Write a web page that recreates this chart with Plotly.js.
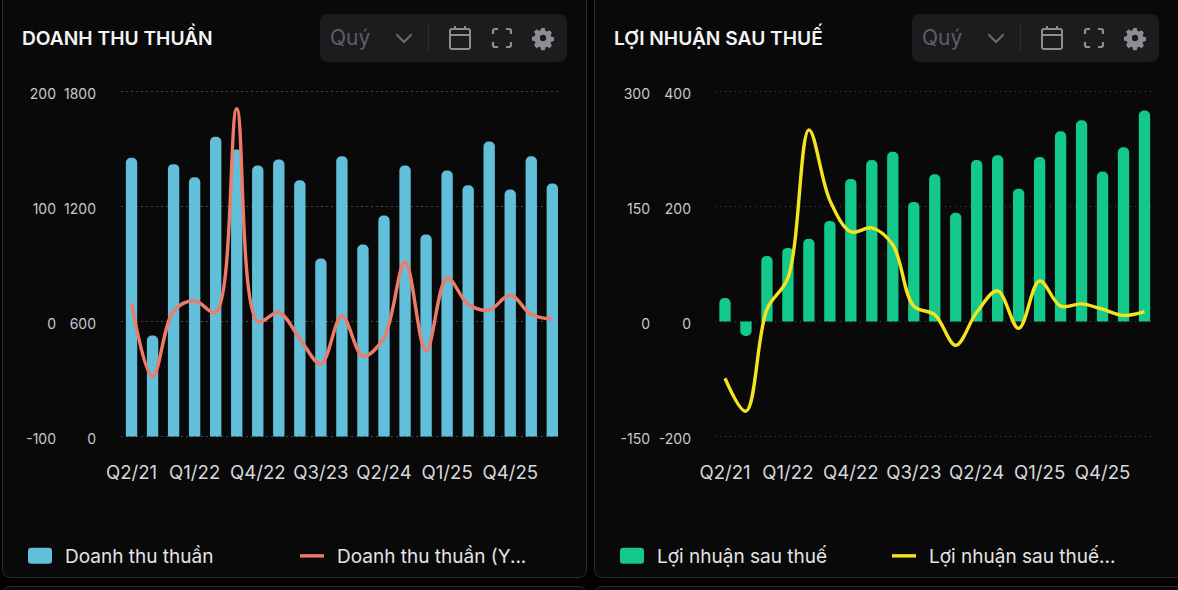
<!DOCTYPE html>
<html><head><meta charset="utf-8">
<script src="https://cdn.plot.ly/plotly-3.0.1.min.js"></script>
<style>
html,body{margin:0;padding:0;width:1178px;height:590px;overflow:hidden;background:#020203;font-family:Inter,sans-serif}
.panel{position:absolute;background:#09090a;border:1px solid #2b2b2d;box-sizing:border-box;border-radius:8px}
.ctl{position:absolute;top:14px;width:247px;height:48px;background:#1c1c1f;border-radius:8px;color:#5e5e62}
.ctl span{position:absolute;left:10px;top:10px;font-size:21px;line-height:28px}
.ctl svg{position:absolute;overflow:visible}
.sep{position:absolute;left:108px;top:10px;width:1px;height:27px;background:#2d2d30}
#chart{position:absolute;left:0;top:0;width:1178px;height:590px}
</style></head><body>
<div class="panel" style="left:2px;top:-20px;width:585px;height:598px"></div>
<div class="panel" style="left:594px;top:-20px;width:600px;height:598px"></div>
<div class="panel" style="left:2px;top:586px;width:585px;height:40px"></div>
<div class="panel" style="left:594px;top:586px;width:600px;height:40px"></div>
<div id="ctl1"></div><div id="ctl2"></div>
<div id="chart"></div>
<script>
var quarters = ["Q2/21","Q3/21","Q4/21","Q1/22","Q2/22","Q3/22","Q4/22","Q1/23","Q2/23","Q3/23","Q4/23","Q1/24","Q2/24","Q3/24","Q4/24","Q1/25","Q2/25","Q3/25","Q4/25","Q1/26","Q2/26"];
var xTicks = ["Q2/21","Q1/22","Q4/22","Q3/23","Q2/24","Q1/25","Q4/25"];
var revenue = [1454,527,1421,1353,1564,1497,1414,1445,1337,929,1462,1002,1153,1414,1054,1388,1311,1539,1289,1462,1320];
var revenueYoY = [16,-48,9,18,8,185,0,8,-15,-37,5,-30,-14,52,-26,38,15,10,23,6,2];
var profit = [41,-25,114,128,144,175,248,281,295,208,256,189,281,289,231,286,331,350,261,303,367];
var profitYoY = [-74,-117,16,57,250,158,117,122,100,20,9,-31,12,40,-9,53,20,23,16,8,13];
var revTickVals = [0,600,1200,1800];
var revTickText = ["0","600","1200","1800"];
var revYoYTickVals = [-100,0,100,200];
var revYoYTickText = ["-100","0","100","200"];
var profTickVals = [-200,0,200,400];
var profTickText = ["-200","0","200","400"];
var profYoYTickVals = [-150,0,150,300];
var profYoYTickText = ["-150","0","150","300"];
var W = 1178, H = 590;
var PAD = 2, topPx = 91.5, botPx = 436.5, span = botPx - topPx;
var yDom = [(H-botPx-PAD)/H,(H-topPx+PAD)/H];
function pad(lo,hi){var e=(hi-lo)/span*PAD;return [lo-e,hi+e];}
var tickFont = {family:"Inter, sans-serif",size:14,color:"#c9c9cc"};
var xFont = {family:"Inter, sans-serif",size:18.6,color:"#d8d8da"};
function bar(name,y,color,xa,ya,lg){return {type:"bar",name:name,x:quarters,y:y,xaxis:xa,yaxis:ya,legend:lg,width:0.54,marker:{color:color,line:{width:0}},hoverinfo:"x+y"};}
function line(name,y,color,xa,ya,lg){return {type:"scatter",mode:"lines",name:name,x:quarters,y:y,xaxis:xa,yaxis:ya,legend:lg,line:{color:color,width:3.4,shape:"spline",smoothing:1},hoverinfo:"x+y"};}
function xax(d,r){return {domain:[d[0]/W,d[1]/W],type:"category",categoryorder:"array",categoryarray:quarters,range:[-0.5,r],tickmode:"array",tickvals:xTicks,ticktext:xTicks,tickangle:0,ticks:"",ticklabelstandoff:21,showgrid:false,zeroline:false,showline:false,tickfont:xFont};}
function yax(px,rng,vals,text,o){var a={domain:yDom,anchor:"free",position:px/W,range:pad(rng[0],rng[1]),tickmode:"array",tickvals:vals,ticktext:text,ticks:"",ticklabelshift:3,showline:false,zeroline:false,showgrid:false,tickfont:tickFont};for(var k in o)a[k]=o[k];return a;}
var grid={showgrid:true,gridcolor:"#48484a",griddash:"1.5px,3.5px",gridwidth:1};
var data=[
 bar("Doanh thu thuần",revenue,"#62bfd9","x","y","legend"),
 line("Doanh thu thuần (Y...",revenueYoY,"#f07a68","x","y2","legend"),
 bar("Lợi nhuận sau thuế",profit,"#12c98b","x2","y3","legend2"),
 line("Lợi nhuận sau thuế...",profitYoY,"#f5e320","x2","y4","legend2")
];
function leg(px){return {x:px/W,xanchor:"left",y:(H-556)/H,yanchor:"middle",orientation:"h",entrywidth:227,entrywidthmode:"pixels",font:{family:"Inter, sans-serif",size:19,color:"#e4e4e6"},bgcolor:"rgba(0,0,0,0)",itemclick:false,itemdoubleclick:false,tracegroupgap:0};}
function ttl(t,px){return {text:t,xref:"paper",yref:"paper",x:px/W,y:(H-36)/H,xanchor:"left",yanchor:"middle",showarrow:false,font:{family:"Inter, sans-serif",size:19.2,color:"#f4f4f5",weight:600}};}
var layout={width:W,height:H,margin:{l:0,r:0,t:0,b:0},paper_bgcolor:"rgba(0,0,0,0)",plot_bgcolor:"rgba(0,0,0,0)",barcornerradius:5,showlegend:true,hovermode:"x",
 xaxis:xax([121,558],20.27),xaxis2:xax([714.5,1151],20.31),
 yaxis:yax(96,[0,1800],revTickVals,revTickText,grid),
 yaxis2:yax(56,[-100,200],revYoYTickVals,revYoYTickText,{overlaying:"y"}),
 yaxis3:yax(691,[-200,400],profTickVals,profTickText,grid),
 yaxis4:yax(650,[-150,300],profYoYTickVals,profYoYTickText,{overlaying:"y3"}),
 legend:leg(25),legend2:leg(617),
 annotations:[ttl("DOANH THU THUẦN",20),ttl("LỢI NHUẬN SAU THUẾ",612)]};
function ctl(id,left){
 var s='<div class="ctl" style="left:'+left+'px"><span>Quý</span>'+
 '<svg style="left:75px;top:18px" width="18" height="12" viewBox="0 0 18 12"><path d="M2 3l7 7 7-7" fill="none" stroke="#6b6b6f" stroke-width="2.2" stroke-linecap="round" stroke-linejoin="round"/></svg>'+
 '<div class="sep"></div>'+
 '<svg style="left:129px;top:12px" width="22" height="24" viewBox="0 0 22 24"><g fill="none" stroke="#8e8e92" stroke-width="2"><rect x="1" y="3" width="20" height="20" rx="2"/><path d="M1 9h20M6 0v4M16 0v4"/></g></svg>'+
 '<svg style="left:172px;top:14px" width="20" height="20" viewBox="0 0 20 20"><path d="M1 6V3a2 2 0 0 1 2-2h3M14 1h3a2 2 0 0 1 2 2v3M19 14v3a2 2 0 0 1-2 2h-3M6 19H3a2 2 0 0 1-2-2v-3" fill="none" stroke="#8e8e92" stroke-width="2.2"/></svg>'+
 '<svg style="left:212px;top:13px" width="22" height="22" viewBox="0 0 22 22"><path fill-rule="evenodd" fill="#8e8e92" d="M9 0h4l.6 3 2 .9 2.6-1.6 2.8 2.8-1.6 2.6.9 2 3 .6v4l-3 .6-.9 2 1.6 2.6-2.8 2.8-2.6-1.6-2 .9-.6 3H9l-.6-3-2-.9-2.6 1.6L1 18.9l1.6-2.6-.9-2-3-.6v-4l3-.6.9-2L1 4.1 3.8 1.3l2.6 1.6 2-.9zM11 7.5a3.5 3.5 0 1 0 0 7 3.5 3.5 0 0 0 0-7z" transform="translate(1.1 1.1) scale(.9)"/></svg></div>';
 document.getElementById(id).innerHTML=s;
}
ctl("ctl1",320);ctl("ctl2",912);
function fixLegend(){
 var gd=document.getElementById("chart");
 gd.querySelectorAll('.traces .legendbar, path.legendundefined').forEach(function(p){
  var ps = p.tagName==='path' ? [p] : p.querySelectorAll('path');
  ps.forEach(function(q){q.setAttribute("d","M-17,-5a3,3 0 0 1 3,-3H4a3,3 0 0 1 3,3V5a3,3 0 0 1 -3,3H-14a3,3 0 0 1 -3,-3Z");});
 });
 gd.querySelectorAll(".legendlines path").forEach(function(p){
  p.setAttribute("d","M3,0h24");
 });
}
Plotly.newPlot("chart",data,layout,{displayModeBar:false,responsive:false}).then(function(gd){fixLegend();gd.on("plotly_afterplot",fixLegend);});
</script></body></html>
